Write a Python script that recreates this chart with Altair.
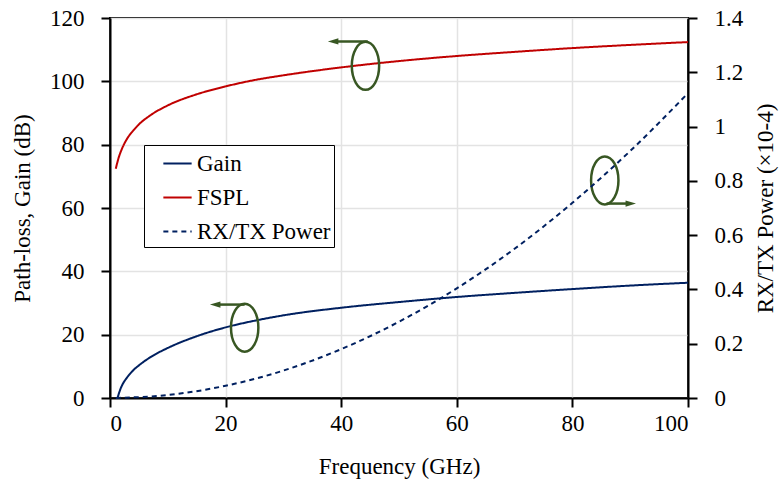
import altair as alt
import pandas as pd

# ---- data ----
freq_gain = [1.3, 1.5, 1.8, 2.2, 2.6, 3, 3.5, 4, 5, 7, 10, 15, 20, 25, 30, 40, 50, 60, 70, 80, 90, 100]
gain_db = [0, 1.2, 2.8, 4.4, 5.6, 6.6, 7.7, 8.7, 10.3, 12.9, 15.8, 19.5, 22.3, 24.4, 26.1, 28.5,
           30.3, 31.9, 33.2, 34.4, 35.5, 36.4]

freq_fspl = [1, 1.5, 2, 3, 4, 5, 7, 10, 15, 20, 25, 30, 40, 50, 60, 70, 80, 90, 100]
fspl_db = [72.4, 75.9, 78.4, 82.0, 84.4, 86.4, 89.3, 92.4, 95.9, 98.4, 100.4, 101.9, 104.4,
           106.4, 108.0, 109.3, 110.5, 111.5, 112.4]

freq_pow = [1, 10, 20, 30, 40, 50, 60, 70, 80, 90, 100]
power_e4 = [0.0, 0.011, 0.045, 0.101, 0.180, 0.281, 0.404, 0.550, 0.719, 0.910, 1.123]

series_names = ["Gain", "FSPL", "RX/TX Power"]
series_colors = ["#002060", "#c00000", "#002060"]

x_ticks = [0, 20, 40, 60, 80, 100]
y_left_ticks = [0, 20, 40, 60, 80, 100, 120]
y_right_ticks = [0, 0.2, 0.4, 0.6, 0.8, 1, 1.2, 1.4]

# annotation markers (ellipse + arrow), in frequency / dB units
ann_x = [44.2, 23.3, 85.6]
ann_y = [104.9, 22.2, 68.7]
arrow_y = [112.6, 29.5, 61.4]
arrow_from = [44.6, 23.3, 85.9]
arrow_head = [38.6, 18.2, 90.1]
arrow_dir = ["left", "left", "right"]

GREEN = "#385723"
FONT = "'Liberation Serif', 'Times New Roman', serif"
FS = 23

df_gain = pd.DataFrame({"f": freq_gain, "v": gain_db, "s": "Gain"})
df_fspl = pd.DataFrame({"f": freq_fspl, "v": fspl_db, "s": "FSPL"})
df_left = pd.concat([df_gain, df_fspl])
df_pow = pd.DataFrame({"f": freq_pow, "v": power_e4, "s": "RX/TX Power"})
df_ann = pd.DataFrame({"f": ann_x, "v": ann_y, "ay": arrow_y, "a0": arrow_from,
                       "ah": arrow_head, "dir": arrow_dir})

xenc = alt.X("f:Q", scale=alt.Scale(domain=[0, 100], nice=False, zero=False),
             axis=alt.Axis(values=x_ticks, title="Frequency (GHz)", format="d",
                           grid=True, titlePadding=20, labelPadding=5))
yscale = alt.Scale(domain=[0, 120], nice=False)
yaxis = alt.Axis(values=y_left_ticks, title="Path-loss, Gain (dB)", format="d",
                 grid=True, titlePadding=15, labelPadding=17)

color = alt.Color("s:N", scale=alt.Scale(domain=series_names, range=series_colors),
                  legend=alt.Legend(title=None))
dash = alt.StrokeDash("s:N", scale=alt.Scale(domain=series_names,
                                             range=[[1, 0], [1, 0], [5, 4]]),
                      legend=alt.Legend(title=None))

left_lines = alt.Chart(df_left).mark_line(strokeWidth=2, interpolate="monotone").encode(
    x=xenc, y=alt.Y("v:Q", scale=yscale, axis=yaxis), color=color, strokeDash=dash,
    detail="s:N")

ellipse_path = ("M 0,-1 C 0.3148,-1 0.57,-0.5523 0.57,0 C 0.57,0.5523 0.3148,1 0,1 "
                "C -0.3148,1 -0.57,0.5523 -0.57,0 C -0.57,-0.5523 -0.3148,-1 0,-1 Z")
ellipses = alt.Chart(df_ann).mark_point(shape=ellipse_path, size=2304, filled=False,
                                        strokeWidth=2.5, color=GREEN, opacity=1).encode(
    x=alt.X("f:Q"), y=alt.Y("v:Q", scale=yscale, axis=yaxis))

shafts = alt.Chart(df_ann).mark_rule(strokeWidth=2.5, color=GREEN).encode(
    x=alt.X("a0:Q"), x2="ah:Q", y=alt.Y("ay:Q", scale=yscale, axis=yaxis))

heads = alt.Chart(df_ann).mark_point(filled=True, size=110, opacity=1, color=GREEN).encode(
    x=alt.X("ah:Q"), y=alt.Y("ay:Q", scale=yscale, axis=yaxis),
    shape=alt.Shape("dir:N", scale=alt.Scale(domain=["left", "right"],
                                             range=["M -1,0 L 1,-0.6 L 1,0.6 Z",
                                                    "M 1,0 L -1,-0.6 L -1,0.6 Z"]),
                    legend=None))

left = alt.layer(left_lines, ellipses, shafts, heads)

right = alt.Chart(df_pow).mark_line(strokeWidth=2, interpolate="monotone").encode(
    x=xenc,
    y=alt.Y("v:Q", scale=alt.Scale(domain=[0, 1.4], nice=False),
            axis=alt.Axis(values=y_right_ticks, orient="right", format="~g", grid=False,
                          title="RX/TX Power (×10-4)", titlePadding=12, labelPadding=17,
                          titleAngle=270, titleBaseline="top")),
    color=color, strokeDash=dash)

chart = alt.layer(left, right).resolve_scale(y="independent").properties(
    width=578, height=380,
    padding={"left": 110, "top": 18, "right": 94, "bottom": 88},
    autosize=alt.AutoSizeParams(type="none"),
    background="white",
).configure_view(stroke="black", strokeWidth=2).configure_axis(
    domainColor="black", domainWidth=2, tickColor="black", tickWidth=2, tickSize=9,
    labelFont=FONT, labelFontSize=FS, labelColor="black",
    titleFont=FONT, titleFontSize=FS, titleFontWeight="normal", titleColor="black",
    gridColor="#e3e3e3", gridWidth=1.5,
).configure_legend(
    orient="none", legendX=34, legendY=127, fillColor="white", strokeColor="black",
    padding=3, symbolOffset=15, labelFont=FONT, labelFontSize=FS, labelColor="black",
    symbolType="stroke", symbolSize=800, symbolStrokeWidth=2, rowPadding=6,
    labelOffset=4, cornerRadius=0,
)

chart.save("out.html", embed_options={"renderer": "svg", "actions": False})
